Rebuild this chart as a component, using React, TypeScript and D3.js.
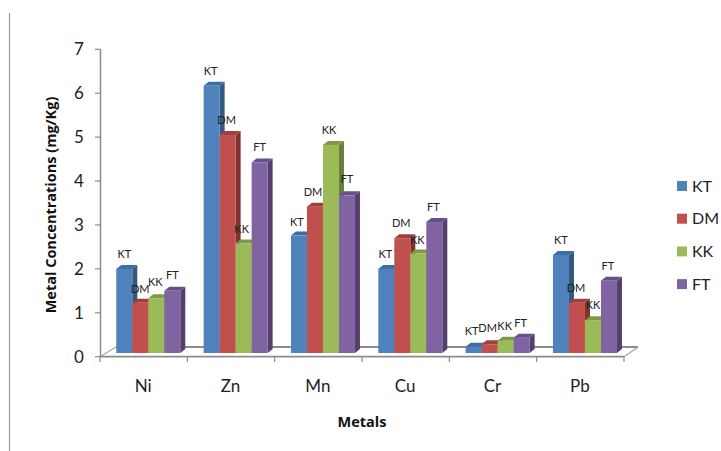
import React from "react";
import * as d3 from "d3";

const categories = ["Ni", "Zn", "Mn", "Cu", "Cr", "Pb"];
const seriesNames = ["KT", "DM", "KK", "FT"];
const KT = [1.92, 6.1, 2.68, 1.92, 0.14, 2.24];
const DM = [1.15, 4.98, 3.34, 2.62, 0.2, 1.15];
const KK = [1.25, 2.5, 4.75, 2.27, 0.28, 0.75];
const FT = [1.42, 4.35, 3.6, 2.99, 0.35, 1.65];
const seriesValues = [KT, DM, KK, FT];
const yTicks = [0, 1, 2, 3, 4, 5, 6, 7];
const front = ["#4f81bd", "#c0504d", "#9bbb59", "#8064a2"];
const top = ["#3a6ea5", "#a23f3c", "#7f9a45", "#66508a"];
const side = ["#35587f", "#7f3331", "#66803a", "#54406f"];

// label nudges relative to the default spot above each bar, [category][series]
const labelNudgeX = [
  [0, 0, -1, 0],
  [-1, -1, -2, 0],
  [-2, -2, -2, 0],
  [-1, -1, -1, -1],
  [-2, -2, -1, -1],
  [0, -1, 0, -1],
];
const labelNudgeY = [
  [-3, -2, -4, -4],
  [-3, -3, -3, -3],
  [-2, -3, -3, -4],
  [-3, -3, -2, -3],
  [-4, -4, -3, -3],
  [-3, -3, -3, -3],
];

const font = "Lato, 'Open Sans', sans-serif";
const boldFont = "'Open Sans', 'DejaVu Sans', sans-serif";

export default function App() {
  const axisY = d3.scaleLinear().domain([0, 7]).range([356.7, 49.3]);
  const barY = d3.scaleLinear().domain([0, 7]).range([353, 46.4]);
  const groupX = d3.scaleLinear().domain([0, 6]).range([100, 624]);
  const dx = 5, dy = 4, bw = 16, gap = 16.3;
  return (
    <svg width={721} height={451} style={{ position: "absolute", left: 0, top: 0 }} fontFamily={font}>
      <rect width={721} height={451} fill="#fff" />
      <line x1={9.5} x2={9.5} y1={13} y2={451} stroke="#9a9a9a" strokeWidth={1.2} />
      {/* axes */}
      <line x1={100.5} x2={100.5} y1={49} y2={357} stroke="#8c8c8c" strokeWidth={1.5} />
      {yTicks.map((t) => (
        <g key={t}>
          <line x1={95} x2={100} y1={axisY(t)} y2={axisY(t)} stroke="#8c8c8c" strokeWidth={1.2} />
          <text x={79} y={axisY(t) + 6} fontSize={17} textAnchor="middle" fill="#222">{t}</text>
        </g>
      ))}
      <line x1={100} y1={356.7} x2={116} y2={347} stroke="#a5a5a5" strokeWidth={1.2} />
      <line x1={116} y1={347} x2={638} y2={347} stroke="#8c8c8c" strokeWidth={1.8} />
      <line x1={624} y1={356.7} x2={638} y2={347} stroke="#a5a5a5" strokeWidth={1.2} />
      <line x1={100} x2={624} y1={356.7} y2={356.7} stroke="#8c8c8c" strokeWidth={1.8} />
      {d3.range(7).map((i) => (
        <line key={i} x1={groupX(i)} x2={groupX(i)} y1={356.7} y2={362} stroke="#8c8c8c" strokeWidth={1.2} />
      ))}
      {categories.map((c, i) => (
        <text key={c} x={(groupX(i) + groupX(i + 1)) / 2 - 0.5} y={392} fontSize={17} textAnchor="middle" fill="#222">{c}</text>
      ))}
      {/* bars */}
      {categories.map((_, i) =>
        seriesValues.map((vals, s) => {
          const x = groupX(i) + gap + s * bw;
          const y = barY(vals[i]);
          const b = barY(0);
          return (
            <g key={`${i}-${s}`}>
              <path d={`M${x + bw},${y} L${x + bw + dx},${y - dy} L${x + bw + dx},${b - dy} L${x + bw},${b} Z`} fill={side[s]} />
              <path d={`M${x},${y} L${x + dx},${y - dy} L${x + bw + dx},${y - dy} L${x + bw},${y} Z`} fill={top[s]} />
              <rect x={x} y={y} width={bw} height={b - y} fill={front[s]} />
            </g>
          );
        })
      )}
      {categories.map((_, i) =>
        seriesValues.map((vals, s) => {
          const x = groupX(i) + gap + s * bw;
          const y = barY(vals[i]);
          return (
            <text key={`l${i}-${s}`} x={x + bw / 2 + labelNudgeX[i][s]} y={y - 8 + labelNudgeY[i][s]} fontSize={11} textAnchor="middle" fill="#222">{seriesNames[s]}</text>
          );
        })
      )}
      {/* titles */}
      <text transform="translate(56,205) rotate(-90)" textAnchor="middle" fontFamily={boldFont} fontSize={14.5} fontWeight={700} fill="#111">Metal Concentrations (mg/Kg)</text>
      <text x={362} y={427} textAnchor="middle" fontFamily={boldFont} fontSize={14.5} fontWeight={700} fill="#111">Metals</text>
      {/* legend */}
      {seriesNames.map((n, s) => (
        <g key={n}>
          <rect x={677} y={181 + s * 32.7} width={10} height={10} fill={front[s]} />
          <text x={692} y={191.5 + s * 32.7} fontSize={16} fill="#222">{n}</text>
        </g>
      ))}
    </svg>
  );
}
